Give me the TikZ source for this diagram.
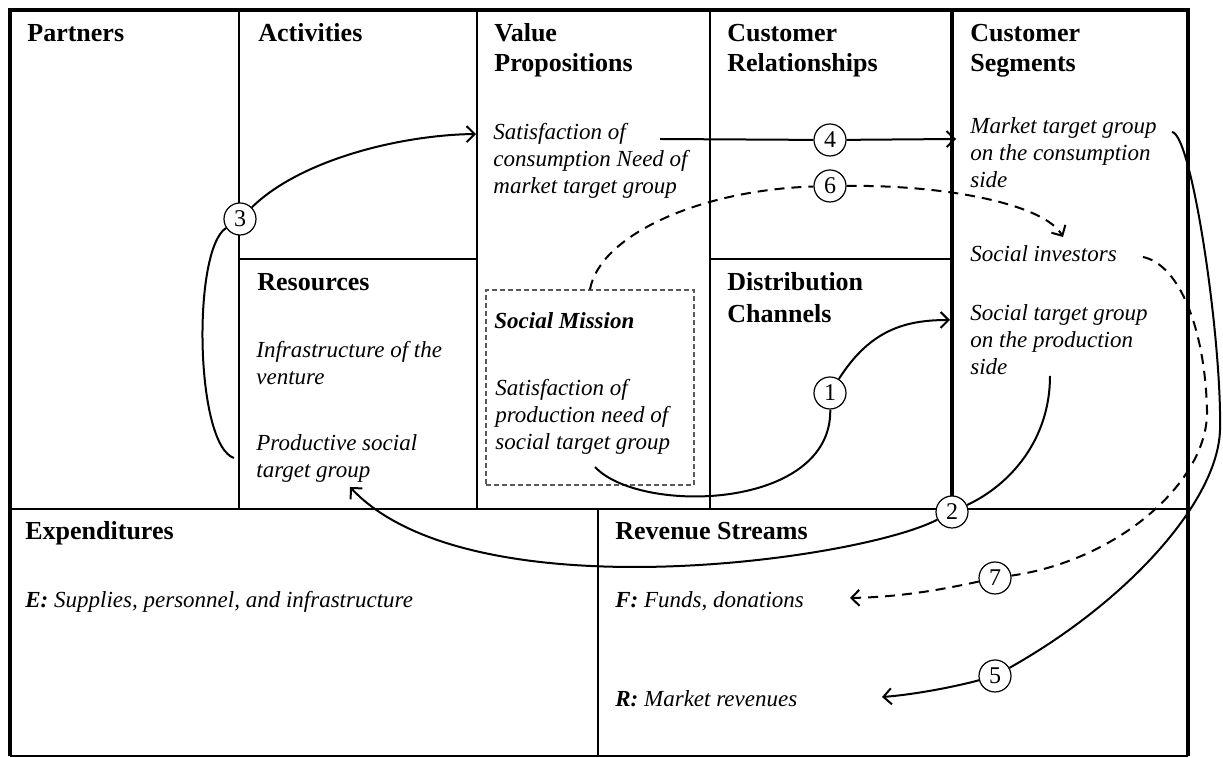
\documentclass[tikz,border=0pt]{standalone}
\usepackage{fontspec}
\setmainfont{Liberation Serif}
\usetikzlibrary{arrows.meta}
\begin{document}
\begin{tikzpicture}[x=0.5pt,y=-0.5pt,
	head/.style={anchor=base west,inner sep=0pt,align=left,font=\fontsize{13}{15}\selectfont\bfseries},
	item/.style={anchor=base west,inner sep=0pt,align=left,font=\fontsize{11.5}{13.5}\selectfont\itshape},
	num/.style={circle,draw,fill=white,line width=0.6pt,minimum size=16pt,inner sep=0pt,font=\fontsize{12}{12}\selectfont},
	flow/.style={line width=1pt,-{Straight Barb[length=4pt,width=8pt]}},
	fund/.style={flow,dash pattern=on 5pt off 3.5pt},
	grid/.style={line width=1pt},
	missionbox/.style={draw=black!65,dash pattern=on 2.5pt off 1.5pt,line width=0.6pt,minimum width=104pt,minimum height=97.5pt,inner sep=0pt}]
	\useasboundingbox (0,0) rectangle (1223,758);
	\draw[grid] (239,10) -- (239,509) (477,10) -- (477,509) (710,10) -- (710,509)
		(239,259) -- (477,259) (710,259) -- (952,259) (10,509) -- (1188,509)
		(598,509) -- (598,756) (10,756) -- (1188,756);
	\draw[line width=1.6pt] (952,10) -- (952,509);
	\draw[line width=2.4pt] (10,756) -- (10,10) -- (1188,10) -- (1188,756);

	\node[head] (partners) at (27,42) {Partners};
	\node[head] (activities) at (258,42) {Activities};
	\node[head] (value) at (494,72) {Value\\Propositions};
	\node[head] (relations) at (727,72) {Customer\\Relationships};
	\node[head] (segments) at (970,72) {Customer\\Segments};
	\node[head] (resources) at (257,291) {Resources};
	\node[head,font=\fontsize{13}{16}\selectfont\bfseries] (channels) at (727,323) {Distribution\\Channels};
	\node[head] (costs) at (25,540) {Expenditures};
	\node[head] (revenue) at (615,540) {Revenue Streams};

	\node[missionbox] (mission) at (590,387.5) {};
	\node[item] (consume) at (493,194) {Satisfaction of\\consumption Need of\\market target group};
	\node[item] (infra) at (256,385) {Infrastructure of the\\venture};
	\node[item] (productive) at (256,478) {Productive social\\target group};
	\node[item,font=\fontsize{11.5}{13.5}\selectfont\bfseries\itshape] (missiontitle) at (494,329) {Social Mission};
	\node[item] (produce) at (495,450) {Satisfaction of\\production need of\\social target group};
	\node[item] (market) at (970,188) {Market target group\\on the consumption\\side};
	\node[item] (investors) at (970,262) {Social investors};
	\node[item] (socialgroup) at (970,375) {Social target group\\on the production\\side};
	\node[item] (expense) at (25,608) {\textbf{E:} Supplies, personnel, and infrastructure};
	\node[item] (funds) at (615,608) {\textbf{F:} Funds, donations};
	\node[item] (sales) at (615,707) {\textbf{R:} Market revenues};

	\node[num] (n1) at (830,393) {1};
	\node[num] (n2) at (952,512) {2};
	\node[num] (n3) at (240,219) {3};
	\node[num] (n4) at (830,140) {4};
	\node[num] (n5) at (995,676) {5};
	\node[num] (n6) at (830,186) {6};
	\node[num] (n7) at (995,578) {7};

	\coordinate (a1s) at (595,467);
	\coordinate (a1e) at (950,320);
	\coordinate (a2s) at (1050,376);
	\coordinate (a2e) at (350,487);
	\coordinate (a3s) at (234,458);
	\coordinate (a3e) at (476,134);
	\coordinate (a4s) at (660,139);
	\coordinate (a4e) at (956,139);
	\coordinate (a5s) at (1172,132);
	\coordinate (a5m) at (1220,430);
	\coordinate (a5e) at (882,697);
	\coordinate (a6e) at (1063,237);
	\coordinate (a7s) at (1143,257);
	\coordinate (a7m) at (1207,410);
	\coordinate (a7e) at (850,598);

	\draw[flow] (a1s) .. controls (640,515) and (832,510) .. (n1) .. controls (870,330) and (905,320) .. (a1e);
	\draw[flow] (a2s) .. controls (1050,440) and (1010,485) .. (n2) .. controls (860,560) and (470,615) .. (a2e);
	\draw[flow] (a3s) .. controls (195,445) and (192,250) .. (n3) .. controls (300,160) and (400,135) .. (a3e);
	\draw[flow] (a4s) -- (n4) -- (a4e);
	\draw[flow] (a5s) .. controls (1192,134) and (1222,340) .. (a5m) .. controls (1218,500) and (1130,600) .. (n5) .. controls (950,688) and (910,695) .. (a5e);
	\draw[fund] (mission.north) .. controls (600,235) and (700,190) .. (n6) .. controls (950,185) and (1045,205) .. (a6e);
	\draw[fund] (a7s) .. controls (1180,265) and (1205,330) .. (a7m) .. controls (1209,480) and (1120,560) .. (n7) .. controls (940,590) and (900,597) .. (a7e);
\end{tikzpicture}
\end{document}
